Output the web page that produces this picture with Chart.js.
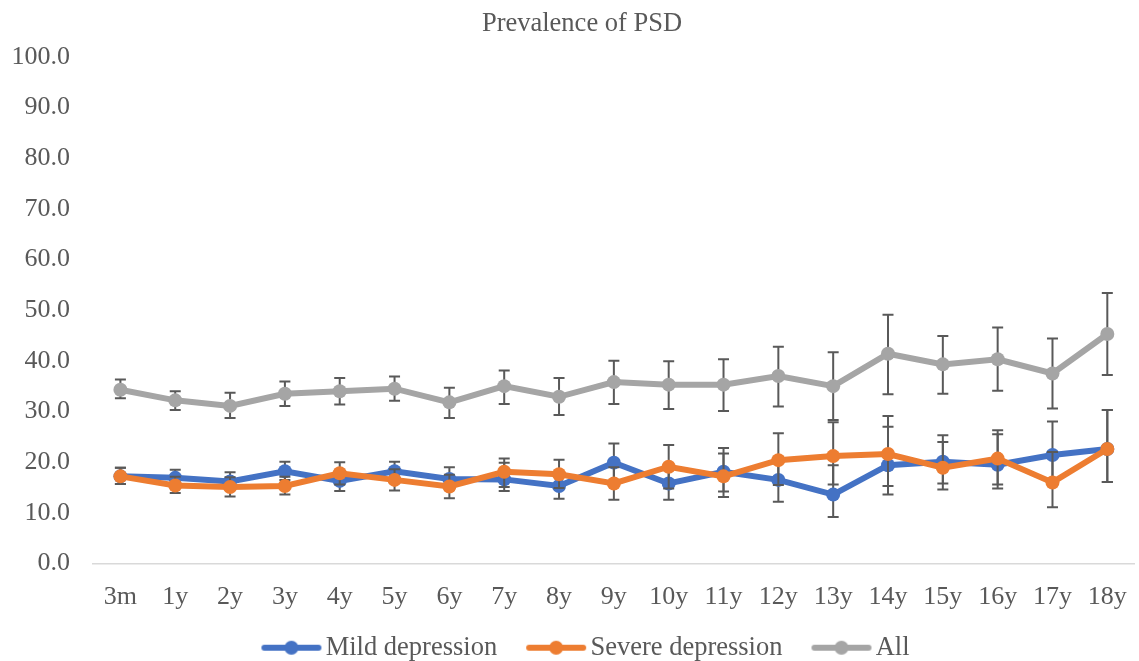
<!DOCTYPE html>
<html><head><meta charset="utf-8">
<script src="https://cdn.jsdelivr.net/npm/chart.js@4/dist/chart.umd.min.js"></script>
<style>html,body{margin:0;padding:0;background:#fff;overflow:hidden;}#wrap{width:1145px;height:671px;}</style>
</head><body><div id="wrap"><canvas id="c" width="1145" height="671"></canvas></div>
<script>
const categories = ['3m','1y','2y','3y','4y','5y','6y','7y','8y','9y','10y','11y','12y','13y','14y','15y','16y','17y','18y'];
const yTicks = [0,10,20,30,40,50,60,70,80,90,100];
const seriesNames = ['Mild depression','Severe depression','All'];

const mild     = [17.2,16.9,16.2,18.2,16.3,18.2,16.7,16.6,15.3,19.9,15.8,18.1,16.5,13.6,19.4,20.1,19.5,21.4,22.6];
const mildLow  = [15.7,15.3,14.6,16.5,14.3,16.4,14.6,14.3,12.8,16.1,12.6,14.2,12.2, 9.2,13.6,15.8,14.8,15.6,16.1];
const mildHigh = [18.9,18.5,18.0,20.1,18.3,20.1,19.0,19.9,17.9,23.7,19.0,22.8,21.0,19.4,27.0,25.3,25.5,28.0,30.3];

const severe     = [17.2,15.4,15.1,15.3,17.8,16.5,15.2,18.1,17.6,15.8,19.1,17.2,20.4,21.2,21.6,18.9,20.7,16.0,22.6];
const severeLow  = [15.7,13.9,13.2,13.6,15.6,14.4,12.9,15.1,14.9,12.6,14.8,13.1,15.5,15.6,15.3,14.6,15.6,11.1,16.1];
const severeHigh = [18.9,17.1,17.0,17.1,20.0,18.6,17.5,20.7,20.5,19.0,23.4,21.7,25.7,27.9,29.1,24.0,26.3,22.0,30.3];

const all     = [34.3,32.2,31.1,33.5,34.0,34.5,31.8,35.0,32.9,35.8,35.3,35.3,37.0,35.0,41.4,39.3,40.3,37.5,45.3];
const allLow  = [32.6,30.3,28.7,31.1,31.4,32.1,28.7,31.5,29.3,31.5,30.5,30.1,31.0,28.3,33.4,33.5,34.1,30.6,37.2];
const allHigh = [36.3,34.0,33.7,35.9,36.6,36.9,34.7,38.1,36.6,40.0,39.9,40.3,42.8,41.7,49.1,44.9,46.6,44.4,53.4];

const colors = ['#4472C4','#ED7D31','#A5A5A5'];
const lows = [mildLow, severeLow, allLow];
const highs = [mildHigh, severeHigh, allHigh];
const TXT = '#595959';
const FONT = 'Liberation Serif';
const LEG_PAD = 22;
const LEG_PW = 58;

function legendImg(color){
  const c = document.createElement('canvas'); c.width = LEG_PW + 20; c.height = 16;
  const g = c.getContext('2d');
  const x0 = LEG_PW - 38, x1 = LEG_PW + 16;
  g.strokeStyle = color; g.lineWidth = 6; g.lineCap = 'round';
  g.beginPath(); g.moveTo(x0, 8); g.lineTo(x1, 8); g.stroke();
  g.fillStyle = color; g.beginPath(); g.arc((x0 + x1) / 2, 8, 7, 0, Math.PI * 2); g.fill();
  return c;
}
const legendImgs = colors.map(legendImg);

const errorBars = {
  id: 'errorBars',
  beforeDatasetDraw(chart, args) {
    const i = args.index;
    if (!args.meta.visible) return;
    const ctx = chart.ctx, xs = chart.scales.x, ys = chart.scales.y;
    ctx.save();
    ctx.strokeStyle = '#595959';
    ctx.lineWidth = 2;
    const cap = 5.5;
    categories.forEach((cat, j) => {
      const x = xs.getPixelForValue(j);
      const yl = ys.getPixelForValue(lows[i][j]);
      const yh = ys.getPixelForValue(highs[i][j]);
      ctx.beginPath();
      ctx.moveTo(x, yl); ctx.lineTo(x, yh);
      ctx.moveTo(x - cap, yl); ctx.lineTo(x + cap, yl);
      ctx.moveTo(x - cap, yh); ctx.lineTo(x + cap, yh);
      ctx.stroke();
    });
    ctx.restore();
  }
};

function ds(label, data, color, order) {
  return {label, data, borderColor: color, backgroundColor: color,
    pointBackgroundColor: color, pointBorderColor: color, pointBorderWidth: 0,
    pointRadius: 7, borderWidth: 6, tension: 0, fill: false, order};
}

new Chart(document.getElementById('c'), {
  type: 'line',
  data: {
    labels: categories,
    datasets: [
      ds(seriesNames[0], mild, colors[0], 2),
      ds(seriesNames[1], severe, colors[1], 1),
      ds(seriesNames[2], all, colors[2], 3)
    ]
  },
  plugins: [errorBars],
  options: {
    responsive: false, animation: false, devicePixelRatio: 1,
    layout: {padding: {left: 19, right: 0, top: 0, bottom: 0}},
    scales: {
      x: {
        offset: true,
        grid: {display: false, drawTicks: false},
        border: {display: true, color: '#D9D9D9', width: 1.5},
        ticks: {color: TXT, font: {family: FONT, size: 26}, padding: 18, maxRotation: 0, autoSkip: false},
        afterFit(s) { s.height = 49; s._computeLabelArea = () => undefined; }
      },
      y: {
        min: 0, max: 100,
        afterBuildTicks(s) { s.ticks = yTicks.map(v => ({value: v})); },
        grid: {display: false, drawTicks: false},
        border: {display: false},
        ticks: {color: TXT, font: {family: FONT, size: 26}, padding: 23, callback: v => Number(v).toFixed(1)},
        afterFit(s) { s.width = 74; s._computeLabelArea = () => undefined; }
      }
    },
    plugins: {
      tooltip: {enabled: false},
      title: {display: true, text: 'Prevalence of PSD', color: TXT,
        font: {family: FONT, size: 26.5, weight: 'normal'}, padding: {top: 8, bottom: 17}},
      legend: {
        position: 'bottom',
        labels: {
          color: TXT, font: {family: FONT, size: 26.5}, padding: LEG_PAD,
          usePointStyle: true, pointStyleWidth: LEG_PW,
          generateLabels(chart) {
            return chart.data.datasets.map((d, i) => ({
              text: d.label, fillStyle: d.borderColor, strokeStyle: d.borderColor,
              lineWidth: 0, pointStyle: legendImgs[i], hidden: false, datasetIndex: i, fontColor: TXT
            }));
          }
        }
      }
    }
  }
});
</script></body></html>
